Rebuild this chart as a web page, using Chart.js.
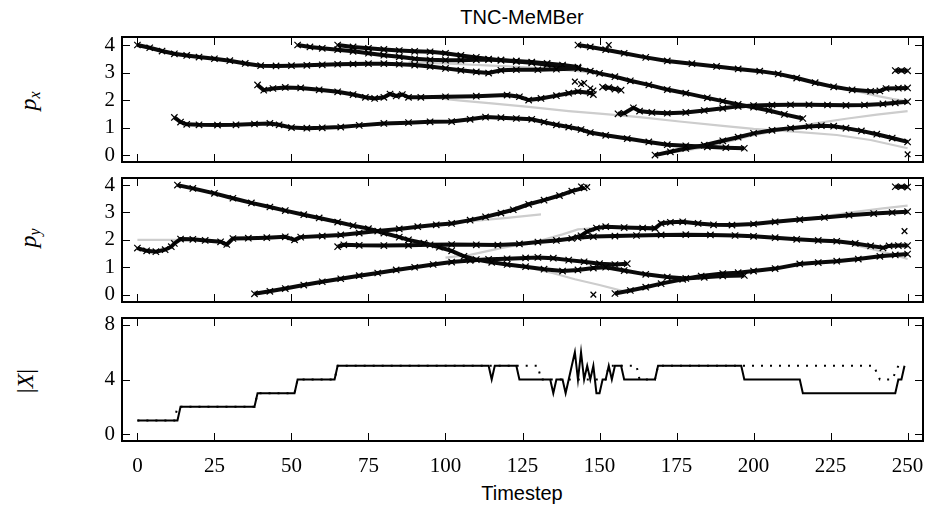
<!DOCTYPE html>
<html>
<head>
<meta charset="utf-8">
<script src="https://cdn.jsdelivr.net/npm/chart.js@4.4.0/dist/chart.umd.min.js"></script>
<style>
body { margin: 0; background: #fff; width: 930px; height: 514px; position: relative; overflow: hidden; }
canvas { position: absolute; left: 0; }
.txt { position: absolute; font-family: "Liberation Sans", Arial, sans-serif; font-size: 20px; color: #000; transform: translate(-50%, -50%); white-space: nowrap; line-height: 1; }
.ylab { position: absolute; font-family: "Liberation Serif", "DejaVu Serif", serif; font-size: 24px; color: #000; transform: translate(-50%, -50%) rotate(-90deg); white-space: nowrap; line-height: 1; }
.ylab sub { font-size: 16px; vertical-align: -4px; }
</style>
</head>
<body>
<div class="txt" style="left:522px;top:17px">TNC-MeMBer</div>
<div class="ylab" style="left:29px;top:101px"><i>p</i><sub><i>x</i></sub></div>
<div class="ylab" style="left:29px;top:238px"><i>p</i><sub><i>y</i></sub></div>
<div class="ylab" style="left:25px;top:381px">|<i>X</i>|</div>
<div class="txt" style="left:522px;top:493px">Timestep</div>
<canvas id="c1" width="930" height="170" style="top:0px"></canvas>
<canvas id="c2" width="930" height="138" style="top:170px"></canvas>
<canvas id="c3" width="930" height="204" style="top:310px"></canvas>
<script>
// tick labels
var xTicks = [0, 25, 50, 75, 100, 125, 150, 175, 200, 225, 250];
var posTicks = [0, 1, 2, 3, 4];
var cardTicks = [0, 4, 8];

// p_x estimates [timestep, value]
var pxA = [[0,4.0],[4,3.9],[8,3.78],[12,3.68],[16,3.62],[20,3.56],[25,3.5],[30,3.43],[35,3.33],[40,3.25],[45,3.24],[50,3.25],[55,3.26],[60,3.28],[65,3.3],[70,3.31],[75,3.32],[80,3.32],[85,3.3],[90,3.27],[95,3.22],[100,3.15],[105,3.08],[110,3.02],[114,2.98],[118,3.08],[123,3.1],[130,3.1],[136,3.12],[143,3.15]];
var pxB = [[52,4.0],[56,3.93],[60,3.88],[65,3.83],[70,3.77],[75,3.7],[80,3.63],[85,3.57],[90,3.5],[95,3.46],[100,3.45],[105,3.45],[110,3.46],[114,3.47],[118,3.45],[123,3.42],[128,3.38],[133,3.33],[138,3.27],[143,3.2]];
var pxC = [[65,4.0],[70,3.93],[75,3.88],[80,3.84],[85,3.8],[90,3.77],[95,3.75],[100,3.7],[105,3.62],[110,3.55],[114,3.49],[118,3.45],[123,3.4],[128,3.35],[133,3.28],[138,3.22],[143,3.15],[147,3.05],[150,2.97],[155,2.85],[160,2.7],[166,2.55],[172,2.38],[178,2.25],[185,2.08],[190,1.96],[195,1.84],[200,1.74],[205,1.62],[210,1.48],[216,1.33]];
var pxD = [[143,4.0],[147,3.93],[152,3.83],[158,3.7],[165,3.55],[172,3.42],[180,3.32],[188,3.22],[195,3.13],[202,3.05],[208,2.95],[214,2.8],[220,2.63],[226,2.48],[232,2.37],[238,2.32],[241,2.33],[243,2.42],[247,2.43],[250,2.44]];
var pxE = [[39,2.55],[41,2.36],[44,2.42],[48,2.46],[53,2.44],[59,2.37],[65,2.3],[70,2.2],[74,2.1],[77,2.06],[80,2.1],[82,2.22],[84,2.15],[86,2.2],[88,2.1],[92,2.1],[100,2.12],[110,2.14],[120,2.18],[124,2.12],[127,2.0],[131,2.06],[136,2.16],[140,2.25],[143,2.31],[147,2.26],[148,2.2]];
var pxE2 = [[151,2.47],[153,2.45],[155,2.4],[157,2.36]];
var pxF = [[12,1.37],[14,1.2],[16,1.12],[20,1.1],[26,1.09],[32,1.1],[38,1.13],[43,1.15],[46,1.1],[50,1.0],[55,0.98],[60,0.99],[66,1.02],[72,1.08],[80,1.15],[88,1.18],[95,1.21],[102,1.22],[108,1.3],[113,1.38],[118,1.36],[123,1.33],[128,1.3],[132,1.2],[136,1.1],[140,1.02],[144,0.93],[147,0.82],[152,0.72],[159,0.6],[166,0.48],[172,0.38],[178,0.34],[185,0.3],[191,0.27],[197,0.25]];
var pxG = [[168,0.0],[173,0.12],[178,0.24],[184,0.36],[190,0.52],[195,0.65],[200,0.79],[206,0.9],[212,0.98],[218,1.04],[222,1.07],[226,1.05],[230,0.98],[235,0.88],[240,0.76],[245,0.62],[250,0.48]];
var pxH = [[156,1.5],[158,1.52],[161,1.72],[163,1.6],[167,1.55],[172,1.52],[178,1.55],[184,1.62],[190,1.7],[195,1.77],[200,1.8],[206,1.82],[212,1.83],[218,1.83],[224,1.82],[230,1.81],[236,1.82],[242,1.86],[246,1.9],[250,1.94]];
var pxI = [[246,3.07],[248,3.07],[250,3.06]];
var pxLone = [[142,2.67],[144,2.58],[145,2.62],[147,2.42],[148,2.35],[153,4.0],[250,0.03]];
// p_x ground truth
var gxA = [[88,3.37],[95,3.35],[105,3.3],[115,3.25],[125,3.2],[135,3.12],[143,3.05],[150,2.97]];
var gxB = [[95,2.1],[105,1.98],[115,1.88],[127,1.75],[140,1.6],[151,1.5],[163,1.38],[176,1.22],[190,1.06],[200,0.95],[213,0.85],[227,0.73],[238,0.55],[250,0.25]];
var gxC = [[168,0.0],[185,0.3],[200,0.72],[212,0.98],[220,1.15],[230,1.32],[240,1.47],[250,1.6]];
var gxD = [[228,2.42],[234,2.3],[240,2.15],[245,2.04],[250,1.95]];

// p_y estimates
var pyA = [[0,1.7],[3,1.6],[6,1.57],[9,1.64],[11,1.75],[12,1.87],[14,2.03],[18,2.02],[22,1.98],[27,1.93],[29,1.83],[31,2.05],[36,2.06],[42,2.08],[48,2.11],[51,2.0],[53,2.1],[60,2.14],[66,2.18],[72,2.25],[78,2.32],[85,2.4],[91,2.48],[97,2.55],[102,2.6],[108,2.72],[113,2.84],[118,2.98],[122,3.1],[127,3.3],[132,3.45],[137,3.62],[141,3.78],[145,3.9]];
var pyB = [[13,4.0],[18,3.88],[25,3.7],[31,3.52],[37,3.35],[43,3.2],[48,3.07],[54,2.92],[59,2.8],[65,2.65],[70,2.52],[75,2.41],[80,2.25],[85,2.1],[88,2.0],[93,1.88],[98,1.73],[102,1.6],[106,1.4],[110,1.28],[115,1.18],[120,1.1],[126,1.02],[132,0.93],[138,0.86],[143,0.9],[148,0.97],[152,1.0],[158,0.88],[165,0.74],[172,0.64],[178,0.59],[184,0.63],[190,0.68],[197,0.7]];
var pyC = [[65,1.75],[67,1.82],[72,1.8],[80,1.79],[88,1.8],[95,1.82],[102,1.83],[110,1.82],[117,1.81],[124,1.85],[130,1.92],[136,1.98],[141,2.05],[144,2.15],[146,2.3],[149,2.43],[152,2.48],[158,2.45],[164,2.43],[168,2.42],[170,2.6],[173,2.64],[177,2.66],[182,2.6],[187,2.55],[193,2.54],[200,2.58],[207,2.66],[215,2.74],[223,2.82],[231,2.9],[239,2.96],[245,3.0],[250,3.03]];
var pyD = [[143,2.08],[148,2.12],[155,2.14],[162,2.16],[170,2.18],[178,2.19],[186,2.18],[194,2.16],[200,2.13],[207,2.08],[214,2.02],[221,1.98],[227,1.95],[233,1.87],[238,1.78],[242,1.71],[244,1.78],[247,1.79],[250,1.79]];
var pyE = [[38,0.03],[43,0.12],[48,0.22],[54,0.35],[60,0.47],[66,0.58],[72,0.69],[78,0.79],[84,0.9],[90,1.0],[96,1.1],[102,1.19],[108,1.25],[114,1.29],[120,1.31],[126,1.34],[130,1.36],[135,1.33],[140,1.26],[145,1.2],[150,1.13],[155,1.1],[159,1.13]];
var pyF = [[155,0.04],[160,0.15],[165,0.27],[170,0.4],[177,0.56],[183,0.68],[190,0.77],[195,0.8],[200,0.86],[207,0.95],[215,1.12],[221,1.17],[227,1.22],[234,1.3],[241,1.4],[246,1.45],[250,1.48]];
var pyG = [[246,3.94],[248,3.94],[250,3.93]];
var pyLone = [[144,3.95],[146,3.93],[148,0.0],[249,2.32]];
// p_y ground truth
var gyA = [[0,2.0],[13,2.0]];
var gyB = [[90,2.48],[100,2.58],[110,2.7],[120,2.8],[131,2.93]];
var gyC = [[100,1.35],[108,1.45],[118,1.7],[130,1.95],[138,2.2],[143,2.38],[150,2.44],[160,2.45]];
var gyE = [[120,1.1],[127,0.98],[135,0.78],[142,0.56],[150,0.35],[158,0.12]];
var gyF = [[200,2.6],[208,2.66],[216,2.75],[225,2.9],[233,3.02],[242,3.15],[250,3.25]];
var gyG = [[232,1.82],[238,1.68],[244,1.5],[250,1.3]];

// cardinality |X|: estimated (solid) and true (dotted)
var cardEst = [[0,1],[13,1],[14,2],[38,2],[39,3],[51,3],[52,4],[64,4],[65,5],[114,5],[115,4],[116,5],[123,5],[124,4],[134,4],[135,3],[136,4],[138,4],[139,3],[140,4],[141,5],[142,6],[143,4],[144,6],[145,4],[146,5],[147,4],[148,5],[149,3],[150,3],[151,4],[152,4],[153,5],[154,4],[155,5],[157,5],[158,4],[168,4],[169,5],[196,5],[197,4],[215,4],[216,3],[246,3],[247,4],[248,4],[249,5]];
var cardTrue = [[0,1],[12,1],[13,2],[38,2],[39,3],[51,3],[52,4],[64,4],[65,5],[130,5],[131,4],[152,4],[153,5],[162,5],[163,4],[168,4],[169,5],[239,5],[241,4],[245,4],[247,5],[249,5]];

var pts = function (arr) {
    return arr.map(function (p) { return { x: p[0], y: p[1] }; });
};

var track = function (arr) {
    return {
        data: pts(arr), borderColor: '#0a0a0a', borderWidth: 4, tension: 0,
        pointStyle: 'crossRot', pointRadius: 4.5, pointBorderWidth: 1.2,
        pointBorderColor: '#000', pointBackgroundColor: '#000', order: 1
    };
};

var lone = function (arr) {
    return {
        data: pts(arr), showLine: false, pointStyle: 'crossRot', pointRadius: 4,
        pointBorderWidth: 1.3, pointBorderColor: '#000', order: 0
    };
};

var truth = function (arr) {
    return { data: pts(arr), borderColor: '#cdcdcd', borderWidth: 2.2, pointRadius: 0, tension: 0, order: 5 };
};

var frameTicks = {
    id: 'frameTicks',
    afterDatasetsDraw: function (chart, args, opts) {
        var a = chart.chartArea, ctx = chart.ctx, xs = chart.scales.x, ys = chart.scales.y;
        ctx.save();
        ctx.strokeStyle = '#000';
        ctx.lineWidth = 1;
        ctx.beginPath();
        xTicks.forEach(function (t) {
            var px = Math.round(xs.getPixelForValue(t)) + 0.5;
            ctx.moveTo(px, a.bottom); ctx.lineTo(px, a.bottom - 8);
            ctx.moveTo(px, a.top); ctx.lineTo(px, a.top + 8);
        });
        opts.yTicks.forEach(function (v) {
            var py = Math.round(ys.getPixelForValue(v)) + 0.5;
            ctx.moveTo(a.left, py); ctx.lineTo(a.left + 8, py);
            ctx.moveTo(a.right, py); ctx.lineTo(a.right - 8, py);
        });
        ctx.stroke();
        ctx.lineWidth = 2;
        ctx.strokeRect(a.left, a.top, a.right - a.left, a.bottom - a.top);
        ctx.restore();
    }
};

var tickFont = { family: '"Liberation Serif", "DejaVu Serif", serif', size: 21 };

var makePanel = function (id, pad, yMin, yMax, yTicks, datasets, showX) {
    return new Chart(document.getElementById(id), {
        type: 'line',
        data: { datasets: datasets },
        options: {
            responsive: false, animation: false, events: [],
            layout: { padding: pad },
            plugins: { legend: { display: false }, tooltip: { enabled: false }, frameTicks: { yTicks: yTicks } },
            scales: {
                x: {
                    type: 'linear', min: -5, max: 255, display: showX,
                    grid: { display: false, drawTicks: false }, border: { display: false },
                    afterBuildTicks: function (s) { s.ticks = xTicks.map(function (v) { return { value: v }; }); },
                    afterFit: function (s) { s.height = showX ? 73 : 0; s.paddingLeft = 0; s.paddingRight = 0; },
                    ticks: { font: tickFont, color: '#000', padding: 13, maxRotation: 0, autoSkip: false }
                },
                y: {
                    type: 'linear', min: yMin, max: yMax,
                    grid: { display: false, drawTicks: false }, border: { display: false },
                    afterBuildTicks: function (s) { s.ticks = yTicks.map(function (v) { return { value: v }; }); },
                    afterFit: function (s) { s.width = 122; s.paddingTop = 0; s.paddingBottom = 0; },
                    ticks: { font: tickFont, color: '#000', padding: 7, autoSkip: false }
                }
            }
        },
        plugins: [frameTicks]
    });
};

makePanel('c1', { top: 37, bottom: 8, left: 0, right: 7 }, -0.25, 4.29, posTicks, [
    track(pxA), track(pxB), track(pxC), track(pxD), track(pxE), track(pxE2),
    track(pxF), track(pxG), track(pxH), track(pxI), lone(pxLone),
    truth(gxA), truth(gxB), truth(gxC), truth(gxD)
], false);

makePanel('c2', { top: 8, bottom: 6, left: 0, right: 7 }, -0.27, 4.26, posTicks, [
    track(pyA), track(pyB), track(pyC), track(pyD), track(pyE), track(pyF), track(pyG), lone(pyLone),
    truth(gyA), truth(gyB), truth(gyC), truth(gyE), truth(gyF), truth(gyG)
], false);

makePanel('c3', { top: 8, bottom: 0, left: 0, right: 7 }, -0.5, 8.5, cardTicks, [
    { data: pts(cardEst), borderColor: '#000', borderWidth: 2, pointRadius: 0, tension: 0 },
    { data: pts(cardTrue), borderColor: '#000', borderWidth: 2, borderDash: [2, 7], pointRadius: 0, tension: 0 }
], true);
</script>
</body>
</html>
